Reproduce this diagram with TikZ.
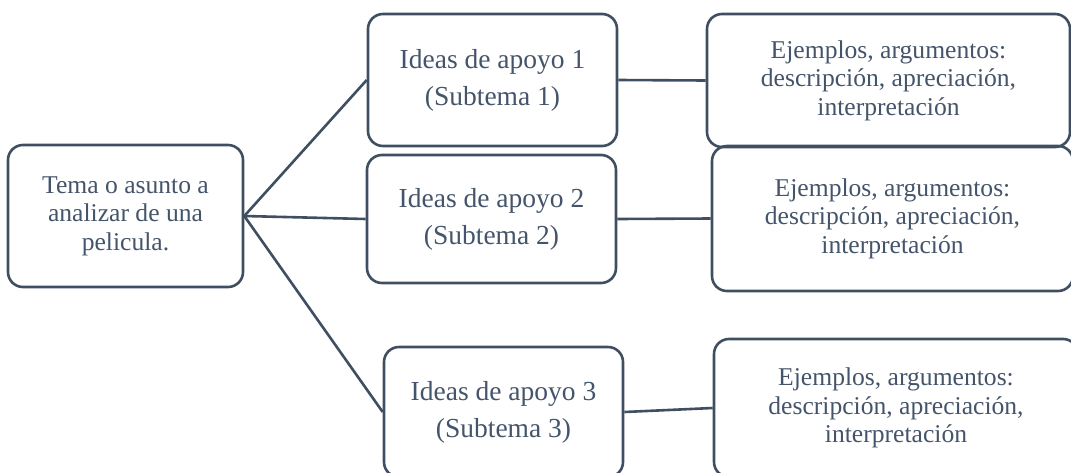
\documentclass[tikz,border=0pt]{standalone}
\usepackage{fontspec}
\setmainfont{Liberation Serif}
\usepackage{tikz}
\definecolor{slatetext}{HTML}{44546A}
\definecolor{slateline}{HTML}{3F4E60}
\tikzset{
  topicbox/.style={draw=slateline, line width=2.6pt, rounded corners=15pt, inner sep=0pt,
    align=center, text=slatetext},
  mainfont/.style={font=\fontsize{25.6pt}{28.5pt}\selectfont},
  ideafont/.style={font=\fontsize{27.5pt}{37pt}\selectfont},
  link/.style={draw=slateline, line width=2.6pt}
}
\begin{document}
\begin{tikzpicture}[x=1pt,y=-1pt]
\useasboundingbox (0,0) rectangle (1071,472);
\node[topicbox, mainfont, minimum width=235pt, minimum height=142pt] (tema) at (125.5,216) {Tema o asunto a\\analizar de una\\pelicula.};
\node[topicbox, ideafont, minimum width=249pt, minimum height=132pt] (idea1) at (492.5,80) {Ideas de apoyo 1\\(Subtema 1)};
\node[topicbox, ideafont, minimum width=249pt, minimum height=128pt] (idea2) at (491.5,219) {Ideas de apoyo 2\\(Subtema 2)};
\node[topicbox, ideafont, minimum width=239pt, minimum height=130pt] (idea3) at (503.5,412) {Ideas de apoyo 3\\(Subtema 3)};
\node[topicbox, mainfont, minimum width=363pt, minimum height=133pt] (ejem1) at (888.5,80.5) {Ejemplos, argumentos:\\descripción, apreciación,\\interpretación};
\node[topicbox, mainfont, minimum width=361pt, minimum height=145pt] (ejem2) at (892.5,218.5) {Ejemplos, argumentos:\\descripción, apreciación,\\interpretación};
\node[topicbox, mainfont, minimum width=364pt, minimum height=138pt] (ejem3) at (896,408) {Ejemplos, argumentos:\\descripción, apreciación,\\interpretación};
\draw[link] (tema.east) -- (idea1.west);
\draw[link] (tema.east) -- (idea2.west);
\draw[link] (tema.east) -- (idea3.west);
\draw[link] (idea1.east) -- (ejem1.west);
\draw[link] (idea2.east) -- (ejem2.west);
\draw[link] (idea3.east) -- (ejem3.west);
\end{tikzpicture}
\end{document}
